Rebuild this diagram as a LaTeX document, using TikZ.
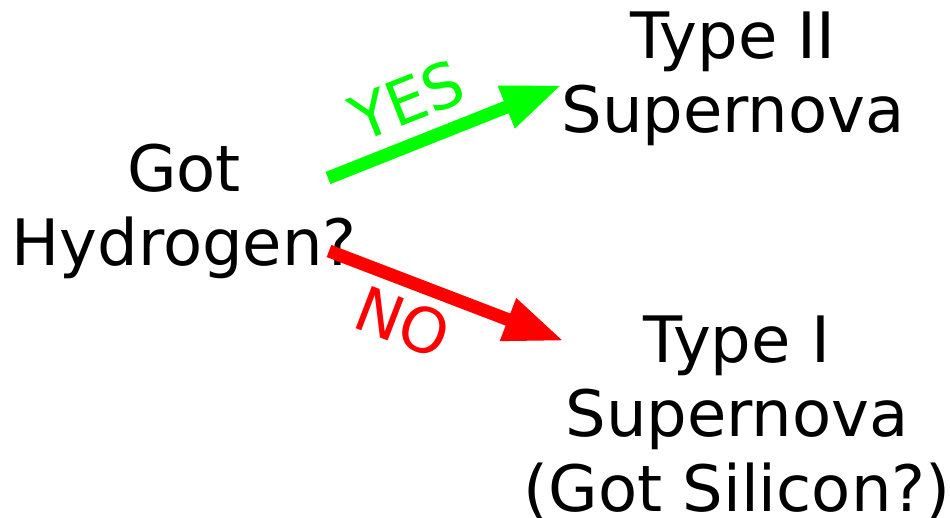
\documentclass[tikz,border=0pt]{standalone}
\usepackage{fontspec}
\setmainfont{DejaVu Sans}
\usetikzlibrary{arrows.meta}
\definecolor{yesgreen}{RGB}{0,255,0}
\definecolor{nored}{RGB}{255,0,0}
\begin{document}
\begin{tikzpicture}[x=1pt,y=-1pt,
  txt/.style={align=center,inner sep=0pt,font=\fontsize{64}{74.5}\selectfont},
  lbl/.style={inner sep=0pt,font=\fontsize{62}{70}\selectfont},
  arr/.style={line width=13pt,-{Triangle[length=60pt,width=42pt]}}]
\useasboundingbox (0,0) rectangle (950,517);
\node[txt] (q) at (184,211.5) {Got\\Hydrogen?};
\node[txt] (t2) at (733,79) {Type II\\Supernova};
\node[txt] (t1) at (737,417.4) {Type I\\Supernova\\(Got Silicon?)};
\coordinate (gs) at (328,178);
\coordinate (ge) at (562,85);
\coordinate (rs) at (329,251);
\coordinate (re) at (564,341);
\draw[arr,yesgreen] (gs) -- (ge);
\draw[arr,nored] (rs) -- (re);
\node[lbl,text=yesgreen,rotate=21.5] (yes) at (407,100) {YES};
\node[lbl,text=nored,rotate=-21] (no) at (403,322) {NO};
\end{tikzpicture}
\end{document}
